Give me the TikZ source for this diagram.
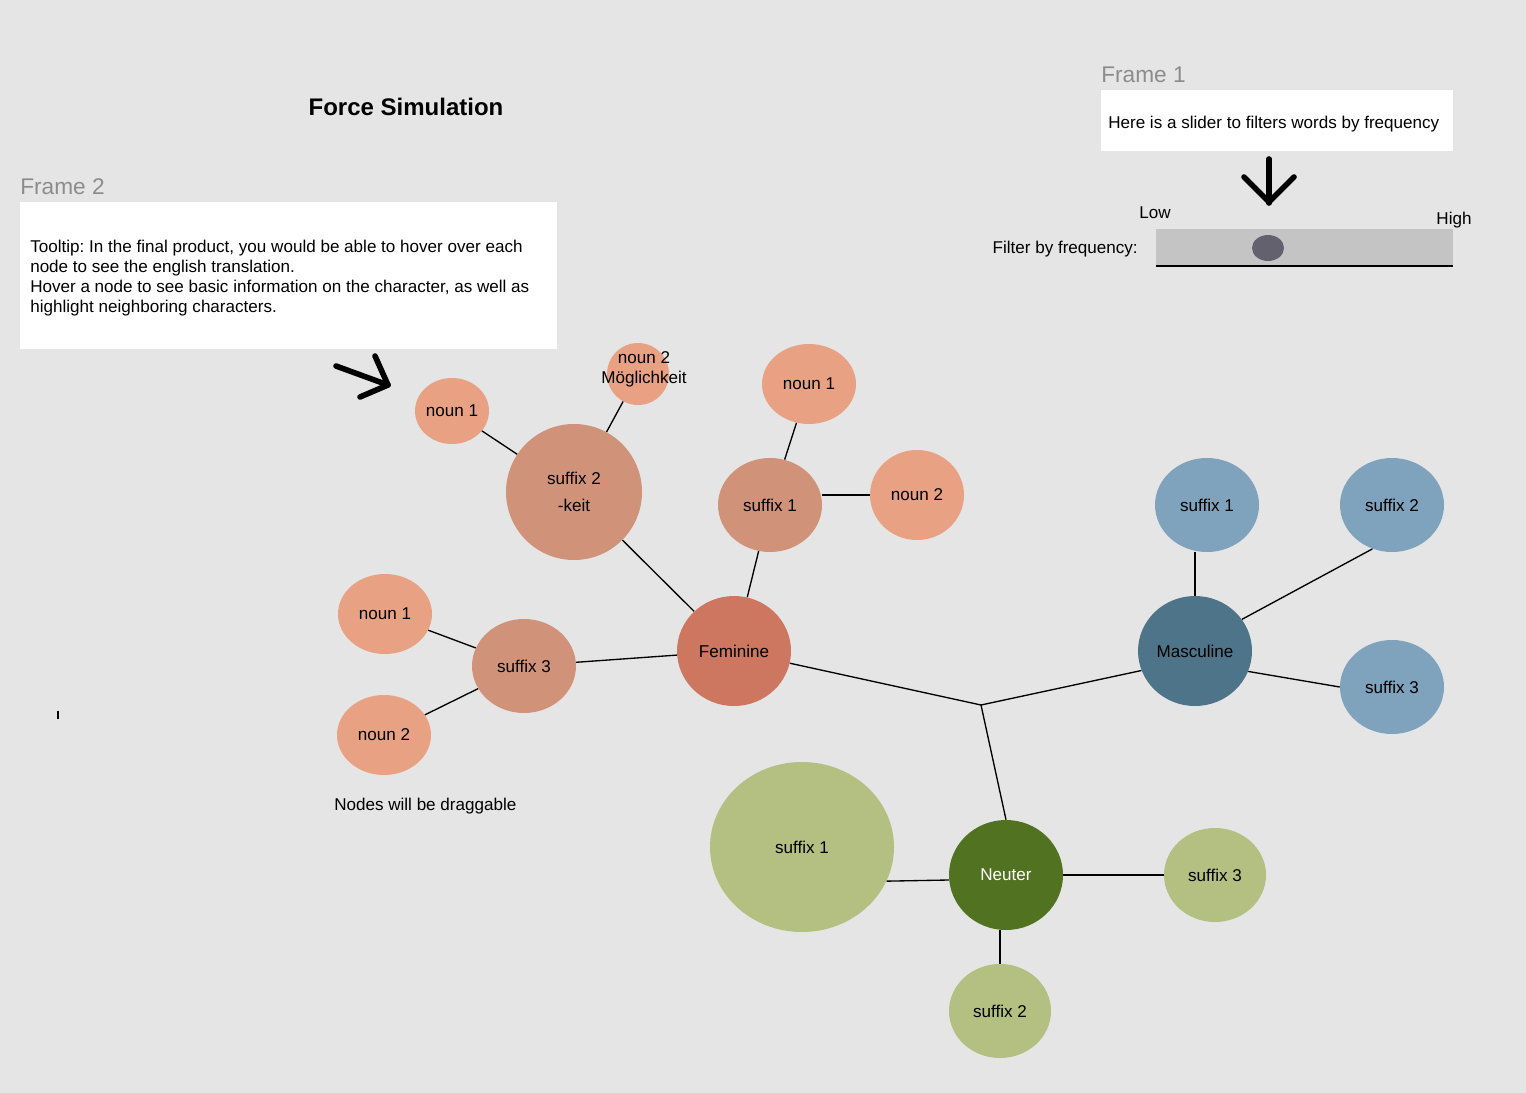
\documentclass[tikz,border=0pt]{standalone}
\usepackage{fontspec}
\setmainfont{Liberation Sans}
\usetikzlibrary{shapes.geometric, positioning}
\frenchspacing

\definecolor{canvas}{HTML}{E5E5E5}
\definecolor{nouncol}{HTML}{E8A283}
\definecolor{femsuf}{HTML}{D0937A}
\definecolor{femcol}{HTML}{CD7660}
\definecolor{mascol}{HTML}{4D7489}
\definecolor{massuf}{HTML}{7FA2BD}
\definecolor{neucol}{HTML}{517321}
\definecolor{neusuf}{HTML}{B4BF82}
\definecolor{framegray}{HTML}{8C8C8C}
\definecolor{slidercol}{HTML}{C4C4C4}
\definecolor{knobcol}{HTML}{64616E}

\tikzset{
	bubble/.style 2 args={ellipse, inner sep=0pt, minimum width={#1*0.75pt}, minimum height={#2*0.75pt}},
	noun/.style 2 args={bubble={#1}{#2}, fill=nouncol},
	link/.style={line width=1pt},
	pointer/.style={line width=4.2pt, line cap=round, line join=round},
	framelabel/.style={anchor=base west, inner sep=0pt, text=framegray, font=\fontsize{17}{20}\selectfont},
	note/.style={fill=white, inner sep=0pt},
	notetext/.style={inner sep=0pt, align=left}
}

\begin{document}
\begin{tikzpicture}[x=0.75pt, y=-0.75pt, font=\fontsize{12.8}{15}\selectfont]
	\useasboundingbox (0,0) rectangle (1526,1092);
	\fill[canvas] (-6,-6) rectangle (1532,1098);

	% title and frames
	\node[font=\bfseries\fontsize{18}{22}\selectfont] (title) at (406,107) {Force Simulation};

	\node[note, minimum width=402.75pt, minimum height=110.25pt] (tip) at (288.5,275.5) {};
	\node[notetext, anchor=north west] (tiptext) at (30,240)
		{Tooltip: In the final product, you would be able to hover over each\\
		node to see the english translation.\\
		Hover a node to see basic information on the character, as well as\\
		highlight neighboring characters.};
	\node[framelabel] (frame2) at (20,194) {Frame 2};

	\node[note, minimum width=264pt, minimum height=45.75pt] (slidernote) at (1277,120.5) {};
	\node[notetext, anchor=base west] (slidertext) at (1108,128) {Here is a slider to filters words by frequency};
	\node[framelabel] (frame1) at (1101,82) {Frame 1};

	% slider
	\fill[slidercol] (1156,229) rectangle (1453,266);
	\draw[line width=1.2pt] (1156,266) -- (1453,266);
	\node[bubble={32}{26}, fill=knobcol] (knob) at (1268,248) {};
	\node (low) at (1155,213) {Low};
	\node (high) at (1454,220) {High};
	\node[anchor=east, inner sep=0pt] (filter) at (1138,249) {Filter by frequency:};

	% hand drawn arrows
	\draw[pointer] (1269,159) -- (1269,203);
	\draw[pointer] (1244,177) -- (1269,202) -- (1294,177);
	\draw[pointer] (336,366) -- (388,385);
	\draw[pointer] (375,356) -- (388,385) -- (360,397);
	\draw[line width=1.2pt] (58,711) -- (58,719);

	% feminine
	\node[bubble={114}{110}, fill=femcol] (fem) at (734,651) {Feminine};
	\node[bubble={136}{136}, fill=femsuf, align=center, font=\fontsize{12.8}{20}\selectfont] (fsuf2) at (574,492) {suffix 2\\-keit};
	\node[noun={74}{66}] (fsuf2n1) at (452,411) {noun 1};
	\node[noun={62}{62}] (fsuf2n2) at (638,374) {};
	\node[notetext, align=center] (fsuf2n2txt) at (644,369) {noun 2\\Möglichkeit};
	\node[bubble={104}{94}, fill=femsuf] (fsuf1) at (770,505) {suffix 1};
	\node[noun={94}{80}] (fsuf1n1) at (809,384) {noun 1};
	\node[noun={94}{90}] (fsuf1n2) at (917,495) {noun 2};
	\node[bubble={104}{94}, fill=femsuf] (fsuf3) at (524,666) {suffix 3};
	\node[noun={94}{80}] (fsuf3n1) at (385,614) {noun 1};
	\node[noun={94}{80}] (fsuf3n2) at (384,735) {noun 2};
	\node[anchor=west, inner sep=0pt] (drag) at (334,806) {Nodes will be draggable};

	% masculine
	\node[bubble={114}{110}, fill=mascol] (mas) at (1195,651) {Masculine};
	\node[bubble={104}{94}, fill=massuf] (msuf1) at (1207,505) {suffix 1};
	\node[bubble={104}{94}, fill=massuf] (msuf2) at (1392,505) {suffix 2};
	\node[bubble={104}{94}, fill=massuf] (msuf3) at (1392,687) {suffix 3};

	% neuter
	\node[bubble={114}{110}, fill=neucol, text=white] (neu) at (1006,875) {Neuter};
	\node[bubble={184}{170}, fill=neusuf] (nsuf1) at (802,847) {suffix 1};
	\node[bubble={102}{94}, fill=neusuf] (nsuf3) at (1215,875) {suffix 3};
	\node[bubble={102}{94}, fill=neusuf] (nsuf2) at (1000,1011) {suffix 2};

	\coordinate (hub) at (981,705);

	% links
	\draw[link] (fem) -- (hub) -- (mas.200);
	\draw[link] (hub) -- (neu.north);
	\draw[link] (fsuf2) -- (fem);
	\draw[link] (fsuf2n1) -- (fsuf2);
	\draw[link] (fsuf2n2) -- (fsuf2);
	\draw[link] (fsuf1) -- (fem);
	\draw[link] (fsuf1n1) -- (fsuf1);
	\draw[link] (fsuf1n2.west) -- (fsuf1n2.west -| fsuf1.east);
	\draw[link] (fsuf3) -- (fem);
	\draw[link] (fsuf3n1) -- (fsuf3);
	\draw[link] (fsuf3n2) -- (fsuf3);
	\draw[link] (mas.north) -- (mas.north |- msuf1.south);
	\draw[link] (mas.34) -- (msuf2.246);
	\draw[link] (mas.-21) -- (msuf3.west);
	\draw[link] (nsuf1.-22) -- (neu.185);
	\draw[link] (nsuf3) -- (neu);
	\draw[link] (nsuf2.north) -- (nsuf2.north |- neu.south);
\end{tikzpicture}
\end{document}
